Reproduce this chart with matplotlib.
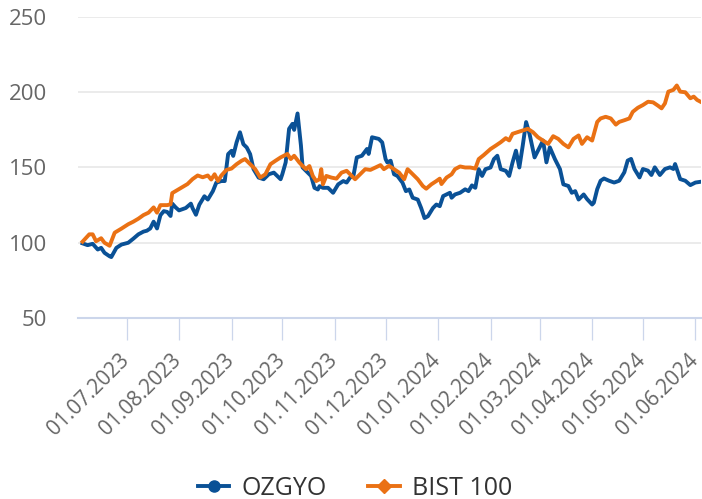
import matplotlib
matplotlib.use('Agg')
import matplotlib.pyplot as plt
import matplotlib.dates as mdates
import matplotlib.transforms as mtransforms
from matplotlib.lines import Line2D
import pandas as pd

plt.rcParams['font.family'] = ['Open Sans', 'DejaVu Sans']

# OZGYO (normalised, start = 100)
ozgyo_dates = [
    '2023-06-05', '2023-06-08', '2023-06-11', '2023-06-14', '2023-06-16', '2023-06-18', '2023-06-21',
    '2023-06-22', '2023-06-25', '2023-06-28', '2023-07-02', '2023-07-05', '2023-07-08', '2023-07-11',
    '2023-07-13', '2023-07-15', '2023-07-17', '2023-07-19', '2023-07-21', '2023-07-23', '2023-07-25',
    '2023-07-27', '2023-07-28', '2023-07-30', '2023-08-01', '2023-08-05', '2023-08-08', '2023-08-09',
    '2023-08-11', '2023-08-13', '2023-08-16', '2023-08-18', '2023-08-21', '2023-08-23', '2023-08-26',
    '2023-08-28', '2023-08-30', '2023-09-01', '2023-09-02', '2023-09-04', '2023-09-06', '2023-09-08',
    '2023-09-10', '2023-09-12', '2023-09-14', '2023-09-17', '2023-09-20', '2023-09-23', '2023-09-26',
    '2023-09-30', '2023-10-01', '2023-10-03', '2023-10-05', '2023-10-07', '2023-10-08', '2023-10-10',
    '2023-10-12', '2023-10-13', '2023-10-16', '2023-10-18', '2023-10-20', '2023-10-22', '2023-10-23',
    '2023-10-25', '2023-10-28', '2023-10-31', '2023-11-03', '2023-11-06', '2023-11-08', '2023-11-10',
    '2023-11-12', '2023-11-14', '2023-11-17', '2023-11-20', '2023-11-21', '2023-11-23', '2023-11-27',
    '2023-11-29', '2023-12-01', '2023-12-02', '2023-12-04', '2023-12-06', '2023-12-08', '2023-12-11',
    '2023-12-13', '2023-12-15', '2023-12-17', '2023-12-20', '2023-12-22', '2023-12-24', '2023-12-26',
    '2023-12-29', '2023-12-31', '2024-01-02', '2024-01-04', '2024-01-06', '2024-01-08', '2024-01-09',
    '2024-01-11', '2024-01-14', '2024-01-17', '2024-01-19', '2024-01-21', '2024-01-23', '2024-01-25',
    '2024-01-27', '2024-01-29', '2024-02-01', '2024-02-03', '2024-02-05', '2024-02-07', '2024-02-10',
    '2024-02-12', '2024-02-14', '2024-02-16', '2024-02-18', '2024-02-20', '2024-02-22', '2024-02-24',
    '2024-02-27', '2024-02-29', '2024-03-03', '2024-03-05', '2024-03-07', '2024-03-10', '2024-03-13',
    '2024-03-15', '2024-03-18', '2024-03-20', '2024-03-22', '2024-03-24', '2024-03-27', '2024-03-29',
    '2024-04-01', '2024-04-02', '2024-04-04', '2024-04-06', '2024-04-08', '2024-04-11', '2024-04-14',
    '2024-04-17', '2024-04-20', '2024-04-22', '2024-04-24', '2024-04-26', '2024-04-29', '2024-05-01',
    '2024-05-04', '2024-05-06', '2024-05-08', '2024-05-11', '2024-05-14', '2024-05-17', '2024-05-19',
    '2024-05-20', '2024-05-23', '2024-05-26', '2024-05-29', '2024-06-01', '2024-06-04',
]
ozgyo_values = [
    99.6, 98.4, 99.3, 95.5, 96.6, 93.3, 91.0,
    90.5, 96.6, 98.8, 100.0, 102.7, 105.6, 107.4,
    108.0, 109.5, 114.0, 109.5, 118.3, 121.0, 120.5,
    117.8, 126.0, 123.5, 121.5, 123.1, 126.0, 123.0,
    118.6, 125.3, 130.9, 128.7, 134.3, 139.9, 141.0,
    141.0, 158.9, 161.1, 157.7, 166.7, 173.4, 165.5,
    163.3, 158.9, 148.9, 143.3, 142.2, 145.5, 146.6,
    142.2, 145.5, 153.4, 175.7, 179.0, 175.0, 185.9,
    164.7, 150.0, 146.6, 144.4, 136.5, 135.4, 137.6,
    136.5, 136.5, 133.2, 138.8, 141.0, 140.0, 143.3,
    144.4, 156.7, 157.8, 162.3, 159.0, 170.1, 169.0,
    166.7, 155.6, 153.4, 154.5, 145.5, 144.4, 139.9,
    134.3, 135.4, 129.9, 128.7, 123.1, 116.4, 117.6,
    123.1, 125.4, 124.3, 131.0, 132.1, 133.2, 129.9,
    132.1, 133.2, 135.5, 134.3, 138.1, 136.5, 148.9,
    144.4, 148.9, 150.0, 155.6, 157.8, 148.9, 147.8,
    144.4, 153.4, 161.2, 150.0, 164.5, 180.2, 172.4,
    156.7, 161.2, 167.9, 153.4, 163.4, 155.6, 148.9,
    138.8, 137.7, 133.2, 134.3, 128.7, 132.1, 129.0,
    125.4, 126.6, 135.6, 141.2, 142.7, 141.2, 140.0,
    141.2, 146.8, 154.6, 155.7, 149.0, 143.4, 149.0,
    147.9, 145.0, 150.1, 145.0, 149.0, 150.1, 149.0,
    152.3, 142.3, 141.2, 138.3, 140.0, 140.5,
]

# BIST 100 (normalised, start = 100)
bist_dates = [
    '2023-06-05', '2023-06-09', '2023-06-11', '2023-06-13', '2023-06-16', '2023-06-18', '2023-06-21',
    '2023-06-24', '2023-06-28', '2023-07-02', '2023-07-05', '2023-07-08', '2023-07-11', '2023-07-14',
    '2023-07-17', '2023-07-19', '2023-07-21', '2023-07-25', '2023-07-27', '2023-07-28', '2023-07-31',
    '2023-08-06', '2023-08-09', '2023-08-12', '2023-08-15', '2023-08-18', '2023-08-20', '2023-08-22',
    '2023-08-24', '2023-08-26', '2023-08-29', '2023-09-01', '2023-09-04', '2023-09-07', '2023-09-09',
    '2023-09-12', '2023-09-15', '2023-09-18', '2023-09-21', '2023-09-24', '2023-09-27', '2023-09-30',
    '2023-10-04', '2023-10-06', '2023-10-08', '2023-10-11', '2023-10-13', '2023-10-15', '2023-10-17',
    '2023-10-19', '2023-10-21', '2023-10-23', '2023-10-24', '2023-10-25', '2023-10-27', '2023-10-30',
    '2023-11-02', '2023-11-05', '2023-11-08', '2023-11-11', '2023-11-13', '2023-11-16', '2023-11-19',
    '2023-11-22', '2023-11-25', '2023-11-28', '2023-11-30', '2023-12-03', '2023-12-06', '2023-12-09',
    '2023-12-12', '2023-12-14', '2023-12-17', '2023-12-20', '2023-12-23', '2023-12-25', '2023-12-28',
    '2023-12-31', '2024-01-02', '2024-01-03', '2024-01-06', '2024-01-09', '2024-01-11', '2024-01-14',
    '2024-01-17', '2024-01-20', '2024-01-23', '2024-01-25', '2024-01-28', '2024-02-01', '2024-02-04',
    '2024-02-07', '2024-02-10', '2024-02-12', '2024-02-14', '2024-02-17', '2024-02-20', '2024-02-23',
    '2024-02-26', '2024-02-29', '2024-03-03', '2024-03-06', '2024-03-09', '2024-03-12', '2024-03-15',
    '2024-03-18', '2024-03-21', '2024-03-24', '2024-03-26', '2024-03-29', '2024-04-01', '2024-04-04',
    '2024-04-06', '2024-04-09', '2024-04-12', '2024-04-15', '2024-04-17', '2024-04-20', '2024-04-23',
    '2024-04-25', '2024-04-28', '2024-05-01', '2024-05-04', '2024-05-07', '2024-05-10', '2024-05-12',
    '2024-05-14', '2024-05-16', '2024-05-19', '2024-05-21', '2024-05-23', '2024-05-26', '2024-05-29',
    '2024-05-31', '2024-06-02', '2024-06-04',
]
bist_values = [
    100.7, 105.6, 105.6, 101.0, 103.0, 100.0, 98.0,
    106.7, 109.4, 112.3, 114.0, 116.0, 118.4, 120.0,
    123.5, 120.0, 125.0, 125.0, 125.5, 133.0, 135.0,
    139.0, 142.3, 144.7, 143.5, 144.7, 142.0, 145.5,
    141.0, 144.7, 148.4, 149.3, 152.2, 154.5, 155.6,
    152.2, 148.9, 143.3, 145.5, 152.2, 154.5, 156.7,
    159.0, 155.6, 157.8, 153.4, 151.0, 148.9, 151.0,
    144.4, 141.0, 142.2, 148.9, 138.8, 144.4, 143.3,
    142.6, 146.6, 147.8, 144.4, 142.2, 145.5, 148.9,
    148.4, 150.0, 151.6, 148.9, 151.1, 148.9, 146.6,
    142.2, 148.9, 145.5, 142.2, 137.7, 135.9, 138.8,
    141.0, 142.6, 139.0, 143.3, 145.5, 148.9, 150.7,
    150.0, 150.0, 149.3, 155.6, 158.3, 162.3, 164.5,
    166.8, 169.5, 168.0, 172.4, 173.5, 174.6, 175.7,
    173.5, 170.1, 167.9, 165.7, 170.8, 169.0, 165.7,
    163.4, 169.0, 171.3, 165.7, 170.1, 167.9, 180.3,
    182.6, 183.7, 182.6, 178.5, 180.3, 181.4, 182.6,
    187.0, 189.7, 191.5, 193.7, 193.3, 191.0, 189.3,
    192.6, 200.4, 201.6, 204.5, 200.4, 200.0, 196.0,
    197.1, 194.9, 193.7,
]

month_ticks = pd.date_range('2023-07-01', '2024-06-01', freq='MS')
y_ticks = [50, 100, 150, 200, 250]

blue = '#0a5196'
orange = '#ea7114'
grid_color = '#e6e6e6'
axis_color = '#ccd6eb'
label_color = '#666666'

fig = plt.figure(figsize=(7.02, 4.99), dpi=100)
ax = fig.add_axes([78 / 702, 1 - 318 / 499, 622.5 / 702, 301 / 499])

ax.plot(pd.to_datetime(ozgyo_dates), ozgyo_values, color=blue, lw=2.8,
        solid_joinstyle='round', zorder=3)
ax.plot(pd.to_datetime(bist_dates), bist_values, color=orange, lw=2.8,
        solid_joinstyle='round', zorder=4)

ax.set_ylim(50, 250)
ax.set_yticks(y_ticks)
ax.set_xlim(pd.Timestamp('2023-06-02 08:00'), pd.Timestamp('2024-06-04'))
ax.set_xticks(month_ticks)
ax.xaxis.set_major_formatter(mdates.DateFormatter('%d.%m.%Y'))

ax.grid(axis='y', color=grid_color, lw=1.1, zorder=0)
ax.set_axisbelow(True)
for side in ['top', 'right', 'left']:
    ax.spines[side].set_visible(False)
ax.spines['bottom'].set_color(axis_color)
ax.spines['bottom'].set_linewidth(1.5)

ax.tick_params(axis='y', length=0, pad=22, labelsize=16, labelcolor=label_color)
ax.tick_params(axis='x', length=16, width=0.9, color=axis_color, pad=3,
               labelsize=15, labelcolor=label_color)
# nudge rotated date labels so their ends sit just under the ticks
shift = mtransforms.ScaledTranslation(-0.08, -0.05, fig.dpi_scale_trans)
for lab in ax.get_xticklabels():
    lab.set_rotation(45)
    lab.set_ha('right')
    lab.set_va('top')
    lab.set_rotation_mode('anchor')
    lab.set_transform(lab.get_transform() + shift)

handles = [
    Line2D([], [], color=blue, lw=2.8, marker='o', markersize=8),
    Line2D([], [], color=orange, lw=2.8, marker='D', markersize=7),
]
fig.legend(handles, ['OZGYO', 'BIST 100'], loc='center', bbox_to_anchor=(0.506, 0.022),
           ncol=2, frameon=False, fontsize=18, labelcolor='#333333',
           handlelength=1.25, handletextpad=0.5, columnspacing=1.65)

fig.savefig('out.png', dpi=100)
